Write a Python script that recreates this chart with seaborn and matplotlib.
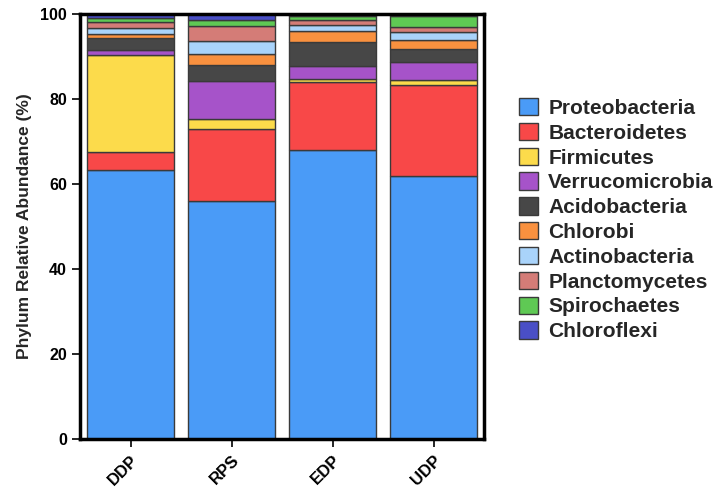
import numpy as np
import pandas as pd
import matplotlib
matplotlib.use("Agg")
import matplotlib.pyplot as plt
import seaborn as sns

# Données (abondance relative en %)
samples = ["DDP", "RPS", "EDP", "UDP"]
phyla = ["Proteobacteria", "Bacteroidetes", "Firmicutes", "Verrucomicrobia",
         "Acidobacteria", "Chlorobi", "Actinobacteria", "Planctomycetes",
         "Spirochaetes", "Chloroflexi"]
proteobacteria = [63.2, 56.0, 67.9, 62.0]
bacteroidetes = [4.4, 17.0, 16.0, 21.3]
firmicutes = [22.7, 2.2, 0.8, 1.2]
verrucomicrobia = [1.2, 9.0, 3.1, 4.1]
acidobacteria = [2.9, 3.9, 5.5, 3.1]
chlorobi = [0.9, 2.5, 2.6, 2.2]
actinobacteria = [1.5, 3.0, 1.5, 1.8]
planctomycetes = [1.3, 3.5, 1.2, 1.2]
spirochaetes = [0.9, 1.6, 0.9, 2.6]
chloroflexi = [0.9, 1.2, 0.5, 0.5]
colors = ["#4a9bf7", "#f84848", "#fcdb4b", "#a653c9", "#474747",
          "#f9913f", "#a9d3fa", "#d47c77", "#5fc954", "#4a4fc6"]

values = [proteobacteria, bacteroidetes, firmicutes, verrucomicrobia,
          acidobacteria, chlorobi, actinobacteria, planctomycetes,
          spirochaetes, chloroflexi]
df = pd.DataFrame(dict(zip(phyla, values)), index=samples)

sns.set_style("white")
plt.rcParams["font.family"] = ["Liberation Sans", "DejaVu Sans"]
plt.rcParams["font.weight"] = "bold"

fig = plt.figure(figsize=(7.23, 5.0), dpi=100)
ax = fig.add_axes([80 / 723, 61 / 500, 404 / 723, 425 / 500])

# Barres empilées
bottom = np.zeros(len(samples))
for phylum, col in zip(phyla, colors):
    sns.barplot(x=samples, y=df[phylum].values, order=samples, bottom=bottom,
                color=col, saturation=1, width=0.86, edgecolor="#3a3a3a",
                linewidth=1.0, label=phylum, ax=ax, errorbar=None)
    bottom = bottom + df[phylum].values

ax.set_ylim(0, 100)
ax.set_xlim(-0.5, 3.5)
ax.set_yticks([0, 20, 40, 60, 80, 100])
ax.set_ylabel("Phylum Relative Abundance (%)", fontsize=12.5,
              fontweight="bold", labelpad=6)
ax.set_xlabel("")
ax.tick_params(axis="both", which="major", length=6, width=1.2, labelsize=11.5,
               direction="out", left=True, bottom=True, colors="black")
for lab in ax.get_yticklabels():
    lab.set_fontweight("bold")
ax.set_xticks(range(len(samples)))
ax.set_xticklabels(samples, rotation=45, ha="right", rotation_mode="anchor",
                   fontweight="bold", fontsize=12)
for s in ax.spines.values():
    s.set_visible(True)
    s.set_linewidth(2.5)
    s.set_color("black")

handles, labels = ax.get_legend_handles_labels()
if ax.get_legend() is not None:
    ax.get_legend().remove()
fig.legend(handles, labels, loc="upper left",
           bbox_to_anchor=(519 / 723, 1 - 98 / 500), frameon=False,
           prop={"weight": "bold", "size": 15}, handlelength=0.9,
           handleheight=0.9, labelspacing=0.24, handletextpad=0.5,
           borderpad=0, borderaxespad=0)

fig.savefig("out.png", dpi=100)
